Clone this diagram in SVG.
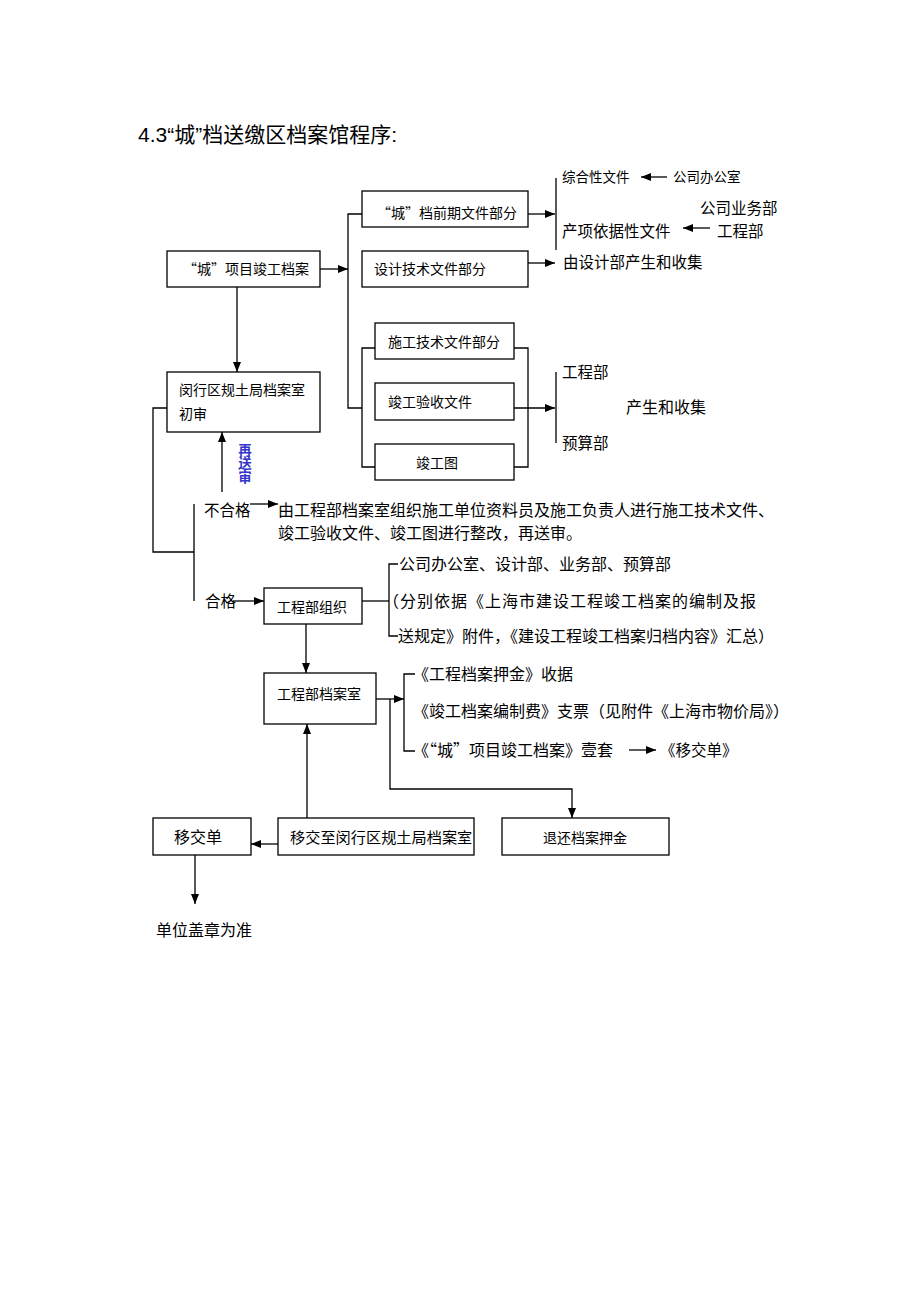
<svg xmlns="http://www.w3.org/2000/svg" width="920" height="1302" viewBox="0 0 920 1302">
<defs>
<style>
text{font-family:"Noto Sans CJK SC","Liberation Sans",sans-serif;fill:#000}
.title{font-family:"Liberation Sans","Noto Sans CJK SC",sans-serif;font-size:21px}
.b{font-size:14px}
.m{font-size:15.5px}
.l{font-size:16px}
.s{font-size:13.5px}
.fw{font-feature-settings:"fwid"}
.box{fill:#fff;stroke:#000;stroke-width:1.3}
.ln{fill:none;stroke:#000;stroke-width:1.3}
.blue{font-size:13.5px;font-weight:bold;fill:#3535cc;writing-mode:vertical-rl}
</style>
<marker id="ah" markerUnits="userSpaceOnUse" markerWidth="10" markerHeight="8" refX="10" refY="4" orient="auto">
<path d="M0,0 L10,4 L0,8 z" fill="#000"/>
</marker>
</defs>
<rect width="920" height="1302" fill="#fff"/>

<text class="title" x="138" y="142">4.3“城”档送缴区档案馆程序:</text>

<g id="connectors">
<line class="ln" x1="320" y1="269" x2="348" y2="269" marker-end="url(#ah)"/>
<polyline class="ln" points="362,214 348,214 348,408 362,408"/>
<polyline class="ln" points="375,348 362,348 362,467 375,467"/>
<polyline class="ln" points="514,348 528,348 528,467 514,467"/>
<line class="ln" x1="514" y1="408" x2="555" y2="408" marker-end="url(#ah)"/>
<line class="ln" x1="556" y1="372" x2="556" y2="443"/>
<line class="ln" x1="528" y1="214" x2="555" y2="214" marker-end="url(#ah)"/>
<line class="ln" x1="556" y1="178" x2="556" y2="250"/>
<line class="ln" x1="528" y1="263" x2="555" y2="263" marker-end="url(#ah)"/>
<line class="ln" x1="667" y1="177" x2="641" y2="177" marker-end="url(#ah)"/>
<line class="ln" x1="710" y1="228" x2="683" y2="228" marker-end="url(#ah)"/>
<line class="ln" x1="237" y1="287" x2="237" y2="372" marker-end="url(#ah)"/>
<line class="ln" x1="222" y1="492" x2="222" y2="432" marker-end="url(#ah)"/>
<polyline class="ln" points="167,408 153,408 153,552 194,552"/>
<line class="ln" x1="194" y1="504" x2="194" y2="601"/>
<line class="ln" x1="250" y1="504" x2="278" y2="504" marker-end="url(#ah)"/>
<line class="ln" x1="233" y1="601" x2="264" y2="601" marker-end="url(#ah)"/>
<line class="ln" x1="362" y1="601" x2="389" y2="601"/>
<polyline class="ln" points="398,564 389,564 389,636 398,636"/>
<line class="ln" x1="306" y1="624" x2="306" y2="673" marker-end="url(#ah)"/>
<line class="ln" x1="376" y1="699" x2="404" y2="699" marker-end="url(#ah)"/>
<polyline class="ln" points="415,674 404,674 404,751 415,751"/>
<line class="ln" x1="629" y1="750" x2="656" y2="750" marker-end="url(#ah)"/>
<polyline class="ln" points="390,699 390,789 572,789 572,818" marker-end="url(#ah)"/>
<line class="ln" x1="307" y1="818" x2="307" y2="724" marker-end="url(#ah)"/>
<line class="ln" x1="278" y1="844" x2="251" y2="844" marker-end="url(#ah)"/>
<line class="ln" x1="195" y1="855" x2="195" y2="904" marker-end="url(#ah)"/>
</g>

<g id="n-project">
<rect class="box" x="167" y="251" width="153" height="36"/>
<text class="b fw" x="183" y="274">“城”项目竣工档案</text>
</g>
<g id="n-early">
<rect class="box" x="362" y="191" width="166" height="36"/>
<text class="b fw" x="377" y="218">“城”档前期文件部分</text>
</g>
<g id="n-design">
<rect class="box" x="362" y="251" width="166" height="36"/>
<text class="b" x="374" y="274">设计技术文件部分</text>
</g>
<g id="n-construct">
<rect class="box" x="375" y="323" width="139" height="36"/>
<text class="b" x="388" y="347">施工技术文件部分</text>
</g>
<g id="n-accept">
<rect class="box" x="375" y="383" width="139" height="37"/>
<text class="b" x="388" y="407">竣工验收文件</text>
</g>
<g id="n-drawing">
<rect class="box" x="375" y="444" width="139" height="36"/>
<text class="b" x="416" y="468">竣工图</text>
</g>
<g id="n-review">
<rect class="box" x="167" y="372" width="153" height="60"/>
<text class="b" x="179" y="395">闵行区规土局档案室</text>
<text class="b" x="179" y="419">初审</text>
</g>
<g id="n-org">
<rect class="box" x="264" y="588" width="98" height="36"/>
<text class="b" x="277" y="612">工程部组织</text>
</g>
<g id="n-archive">
<rect class="box" x="264" y="673" width="112" height="51"/>
<text class="b" x="277" y="699">工程部档案室</text>
</g>
<g id="n-transfer">
<rect class="box" x="153" y="818" width="98" height="37"/>
<text class="l" x="174" y="843">移交单</text>
</g>
<g id="n-hand">
<rect class="box" x="278" y="818" width="196" height="37"/>
<text style="font-size:15.2px" x="290" y="843">移交至闵行区规土局档案室</text>
</g>
<g id="n-refund">
<rect class="box" x="502" y="818" width="167" height="37"/>
<text class="b" x="543" y="843">退还档案押金</text>
</g>

<g id="labels">
<text class="s" x="562" y="182">综合性文件</text>
<text class="s" x="673" y="182">公司办公室</text>
<text class="m" x="700" y="214">公司业务部</text>
<text class="m" x="562" y="237">产项依据性文件</text>
<text class="m" x="717" y="237">工程部</text>
<text class="m" x="563" y="268">由设计部产生和收集</text>
<text class="m" x="562" y="378">工程部</text>
<text class="m" x="562" y="449">预算部</text>
<text class="l" x="626" y="413">产生和收集</text>
<text class="blue" x="245" y="443">再送审</text>
<text class="m" x="204" y="516">不合格</text>
<text class="l" x="278" y="516">由工程部档案室组织施工单位资料员及施工负责人进行施工技术文件、</text>
<text class="l" x="278" y="539">竣工验收文件、竣工图进行整改，再送审。</text>
<text class="m" x="205" y="607">合格</text>
<text class="l" x="399" y="570">公司办公室、设计部、业务部、预算部</text>
<text class="l" x="383" y="607" letter-spacing="1">（分别依据《上海市建设工程竣工档案的编制及报</text>
<text class="l" x="398" y="642">送规定》附件，《建设工程竣工档案归档内容》汇总）</text>
<text class="l" x="413" y="680">《工程档案押金》收据</text>
<text class="l" x="413" y="717">《竣工档案编制费》支票（见附件《上海市物价局》）</text>
<text class="l fw" x="413" y="756">《“城”项目竣工档案》壹套</text>
<text class="m" x="660" y="756">《移交单》</text>
<text class="l" x="156" y="936">单位盖章为准</text>
</g>
</svg>
